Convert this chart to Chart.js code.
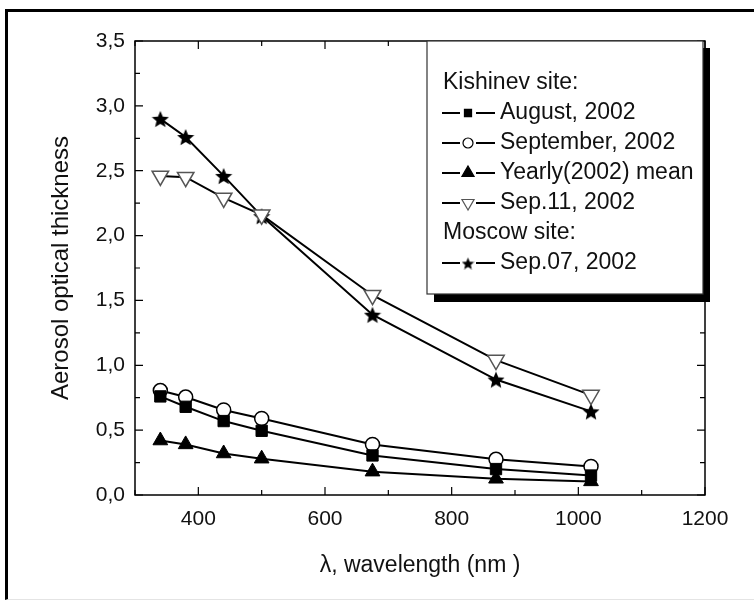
<!DOCTYPE html>
<html>
<head>
<meta charset="utf-8">
<script src="https://cdn.jsdelivr.net/npm/chart.js@4/dist/chart.umd.min.js"></script>
<style>
  html, body { margin: 0; padding: 0; background: #fff; }
  #wrap { position: relative; width: 754px; height: 611px; }
  #frame {
    position: absolute; left: 5px; top: 9px; width: 760px; height: 591px;
    border-left: 3px solid #000; border-top: 3px solid #000; border-bottom: 1px solid #e4e4e4;
    box-sizing: border-box; pointer-events: none;
  }
  canvas { position: absolute; left: 0; top: 0; }
</style>
</head>
<body>
<div id="wrap">
  <div id="frame"></div>
  <canvas id="aotChart" width="754" height="611"></canvas>
</div>
<script>
// wavelengths (nm)
const wavelengths = [340, 380, 440, 500, 675, 870, 1020];

// Kishinev site
const august2002 = [0.76, 0.68, 0.57, 0.495, 0.305, 0.2, 0.15];
const september2002 = [0.805, 0.755, 0.655, 0.59, 0.39, 0.275, 0.22];
const yearly2002 = [0.42, 0.39, 0.32, 0.28, 0.18, 0.125, 0.105];
const sep11_2002 = [2.46, 2.45, 2.29, 2.16, 1.54, 1.04, 0.77];
// Moscow site
const sep07_2002 = [2.9, 2.76, 2.46, 2.15, 1.39, 0.89, 0.645];

const seriesLabels = ["August, 2002", "September, 2002", "Yearly(2002) mean", "Sep.11, 2002", "Sep.07, 2002"];
const legendRows = ["Kishinev site:", 0, 1, 2, 3, "Moscow site:", 4];

const FONT = "'Liberation Sans', Arial, sans-serif";

function makeStar(size) {
  const c = document.createElement("canvas");
  c.width = size; c.height = size;
  const g = c.getContext("2d");
  const cx = size / 2, cy = size / 2 + 1, R = size / 2, r = R * 0.45;
  g.beginPath();
  for (let i = 0; i < 10; i++) {
    const rad = i % 2 === 0 ? R : r;
    const a = -Math.PI / 2 + i * Math.PI / 5;
    g.lineTo(cx + rad * Math.cos(a), cy + rad * Math.sin(a));
  }
  g.closePath();
  g.fillStyle = "#000";
  g.fill();
  return c;
}
const starBig = makeStar(18);
const starSmall = makeStar(13);

function toPoints(values) {
  return wavelengths.map((w, i) => ({ x: w, y: values[i] }));
}

const styles = [
  { pointStyle: "rect", radius: 8, bg: "#000", border: "#000", bw: 1, rot: 0, legendR: 5 },
  { pointStyle: "circle", radius: 7, bg: "#fff", border: "#000", bw: 1.5, rot: 0, legendR: 5 },
  { pointStyle: "triangle", radius: 8.5, bg: "#000", border: "#000", bw: 1, rot: 0, legendR: 7 },
  { pointStyle: "triangle", radius: 9.5, bg: "#fff", border: "#555", bw: 1.5, rot: 180, legendR: 7 },
  { pointStyle: starBig, radius: 9, bg: "#000", border: "#000", bw: 1, rot: 0, legendR: 7, legendImg: starSmall }
];
const seriesValues = [august2002, september2002, yearly2002, sep11_2002, sep07_2002];

const datasets = seriesValues.map((vals, i) => ({
  label: seriesLabels[i],
  data: toPoints(vals),
  showLine: true,
  borderColor: "#000",
  borderWidth: 2,
  backgroundColor: styles[i].bg,
  pointStyle: styles[i].pointStyle,
  pointRadius: styles[i].radius,
  pointRotation: styles[i].rot,
  pointBackgroundColor: styles[i].bg,
  pointBorderColor: styles[i].border,
  pointBorderWidth: styles[i].bw
}));

const frameAndLegend = {
  id: "frameAndLegend",
  afterDraw(chart) {
    const { ctx, chartArea: a, scales } = chart;
    const xs = scales.x, ys = scales.y;
    ctx.save();
    ctx.strokeStyle = "#000";
    ctx.lineWidth = 1.5;
    ctx.strokeRect(a.left, a.top, a.right - a.left, a.bottom - a.top);

    // inward ticks on all four sides
    ctx.lineWidth = 1.2;
    xs.ticks.forEach((t) => {
      const px = xs.getPixelForValue(t.value);
      const len = t.value % 200 === 0 ? 8 : 5;
      ctx.beginPath();
      ctx.moveTo(px, a.bottom); ctx.lineTo(px, a.bottom - len);
      ctx.moveTo(px, a.top); ctx.lineTo(px, a.top + len);
      ctx.stroke();
    });
    ys.ticks.forEach((t) => {
      const py = ys.getPixelForValue(t.value);
      const len = Math.abs(t.value * 2 - Math.round(t.value * 2)) < 1e-6 ? 8 : 5;
      ctx.beginPath();
      ctx.moveTo(a.left, py); ctx.lineTo(a.left + len, py);
      ctx.moveTo(a.right, py); ctx.lineTo(a.right - len, py);
      ctx.stroke();
    });

    // legend box with shadow
    const bx = 427, by = 41, bw = 276, bh = 253;
    ctx.fillStyle = "#000";
    ctx.fillRect(bx + 7, by + bh, bw, 8);
    ctx.fillRect(bx + bw, by + 7, 7, bh + 1);
    ctx.fillStyle = "#fff";
    ctx.fillRect(bx, by, bw, bh);
    ctx.strokeStyle = "#333";
    ctx.lineWidth = 1.2;
    ctx.strokeRect(bx, by, bw, bh);

    ctx.font = "23px " + FONT;
    ctx.textBaseline = "middle";
    ctx.textAlign = "left";
    legendRows.forEach((row, r) => {
      const y = by + 42 + r * 30;
      ctx.fillStyle = "#111";
      if (typeof row === "string") {
        ctx.fillText(row, bx + 16, y);
        return;
      }
      const st = styles[row];
      ctx.strokeStyle = "#000";
      ctx.lineWidth = 2;
      ctx.beginPath();
      ctx.moveTo(bx + 15, y); ctx.lineTo(bx + 33, y);
      ctx.moveTo(bx + 49, y); ctx.lineTo(bx + 68, y);
      ctx.stroke();
      ctx.fillStyle = st.bg;
      ctx.strokeStyle = st.border;
      ctx.lineWidth = 1.2;
      Chart.helpers.drawPoint(ctx, {
        pointStyle: st.legendImg || st.pointStyle,
        radius: st.legendR,
        rotation: st.rot,
        borderWidth: 1.2
      }, bx + 41, y);
      ctx.fillStyle = "#111";
      ctx.fillText(seriesLabels[row], bx + 73, y);
    });
    ctx.restore();
  }
};

new Chart(document.getElementById("aotChart"), {
  type: "scatter",
  data: { datasets },
  options: {
    responsive: false,
    animation: false,
    layout: { padding: { left: 0, top: 41, right: 49, bottom: 0 } },
    plugins: { legend: { display: false }, tooltip: { enabled: false } },
    scales: {
      x: {
        type: "linear",
        min: 300, max: 1200,
        afterFit: (s) => { s.height = 116; },
        grid: { display: false, drawTicks: false },
        border: { display: false },
        ticks: {
          stepSize: 100,
          padding: 12,
          color: "#111",
          font: { family: FONT, size: 21 },
          maxRotation: 0,
          autoSkip: false,
          callback: (v) => (v % 200 === 0 && v >= 400 ? String(v) : "")
        },
        title: {
          display: true,
          text: "λ, wavelength (nm )",
          color: "#111",
          font: { family: FONT, size: 23 },
          padding: { top: 0, bottom: 32 }
        }
      },
      y: {
        type: "linear",
        min: 0, max: 3.5,
        afterFit: (s) => { s.width = 135; },
        grid: { display: false, drawTicks: false },
        border: { display: false },
        ticks: {
          stepSize: 0.25,
          padding: 10,
          color: "#111",
          font: { family: FONT, size: 21 },
          autoSkip: false,
          callback: (v) => (Math.abs(v * 2 - Math.round(v * 2)) < 1e-6 ? v.toFixed(1).replace(".", ",") : "")
        },
        title: {
          display: true,
          text: "Aerosol optical thickness",
          color: "#111",
          font: { family: FONT, size: 24 },
          padding: { top: 47, bottom: 0 }
        }
      }
    }
  },
  plugins: [frameAndLegend]
});
</script>
</body>
</html>
